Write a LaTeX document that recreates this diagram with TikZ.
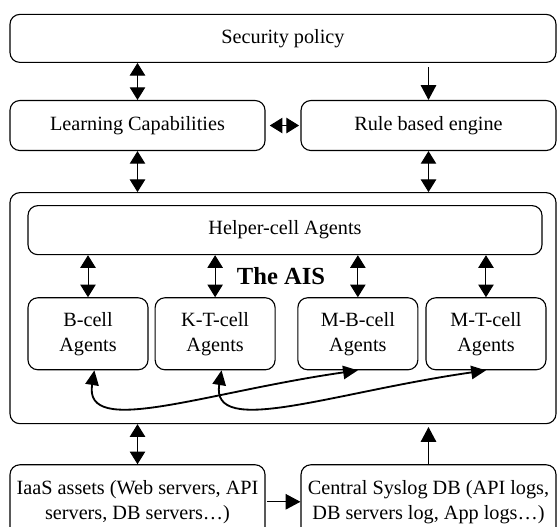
\documentclass[tikz,border=0pt]{standalone}
\usepackage{fontspec}
\setmainfont{Liberation Serif}
\usetikzlibrary{positioning,arrows.meta,calc}
\begin{document}
\begin{tikzpicture}[node distance=1cm, auto,
    box/.style={draw, line width=0.8pt, rounded corners=7pt, align=center, inner sep=0pt, font=\fontsize{14.4}{17.8}\selectfont},
    wide/.style={box, minimum width=6.375cm, minimum height=1.25cm},
    agent/.style={box, minimum width=3cm, minimum height=1.8cm},
    arr/.style={line width=0.7pt, -{Triangle[length=10.5pt,width=11pt]}},
    dbl/.style={line width=0.7pt, {Triangle[length=9pt,width=11pt]}-{Triangle[length=9pt,width=11pt]}},
    link/.style={line width=1.3pt, {Triangle[length=10.5pt,width=9.5pt]}-{Triangle[length=10.5pt,width=9.5pt]}}]
  \useasboundingbox (0,0) rectangle (13.925,-13.175);
  \node(sec) [box, minimum width=13.65cm, minimum height=1.2cm] at (7.075,-0.96) {Security policy};
  \node(learn) [wide, below=0.925cm of sec.south west, anchor=north west] {Learning Capabilities};
  \node(rule) [wide, below=0.925cm of sec.south east, anchor=north east] {Rule based engine};
  \node(ais) [box, minimum width=13.65cm, minimum height=5.775cm, below=1.025cm of learn.south west, anchor=north west] {};
  \node(helper) [box, minimum width=12.85cm, minimum height=1.225cm, below right=0.325cm and 0.45cm of ais.north west] {Helper-cell Agents};
  \node(bcell) [agent, below=1.05cm of helper.south west, anchor=north west] {B-cell\\Agents};
  \node(kt) [agent, right=0.15cm of bcell] {K-T-cell\\Agents};
  \node(mb) [agent, right=0.54cm of kt] {M-B-cell\\Agents};
  \node(mt) [agent, right=0.175cm of mb] {M-T-cell\\Agents};
  \node(title) [xshift=-0.1cm, font=\bfseries\fontsize{17.5}{20}\selectfont] at ($(helper.south)!0.5!(helper.south |- kt.north)$) {The AIS};
  \node(iaas) [box, minimum width=6.375cm, minimum height=1.85cm, below=1cm of ais.south west, anchor=north west] {IaaS assets (Web servers, API\\servers, DB servers…)};
  \node(syslog) [box, minimum width=6.375cm, minimum height=1.85cm, below=1cm of ais.south east, anchor=north east] {Central Syslog DB (API logs,\\DB servers log, App logs…)};
  \draw[dbl] (learn.north |- sec.south) -- (learn.north);
  \draw[arr, shorten <=3pt] (rule.north |- sec.south) -- (rule.north);
  \draw[dbl, shorten <=3pt, shorten >=1pt] (learn.east) -- (rule.west);
  \draw[dbl] (learn.south) -- (learn.south |- ais.north);
  \draw[dbl] (rule.south) -- (rule.south |- ais.north);
  \foreach \a in {bcell,kt,mb,mt}
    \draw[dbl] (\a.north |- helper.south) -- (\a.north);
  \draw[link] ([xshift=0.16cm]bcell.south) .. controls +(-0.275,-1.7) and +(-3.85,-0.55) .. (mb.south);
  \draw[link] ([xshift=0.16cm]kt.south) .. controls +(-0.275,-1.7) and +(-3.85,-0.55) .. (mt.south);
  \draw[dbl] (ais.south -| iaas.north) -- (iaas.north);
  \draw[arr, shorten >=2pt] (syslog.north) -- (syslog.north |- ais.south);
  \draw[arr, shorten <=1pt] (iaas.east) -- (syslog.west);
\end{tikzpicture}
\end{document}
